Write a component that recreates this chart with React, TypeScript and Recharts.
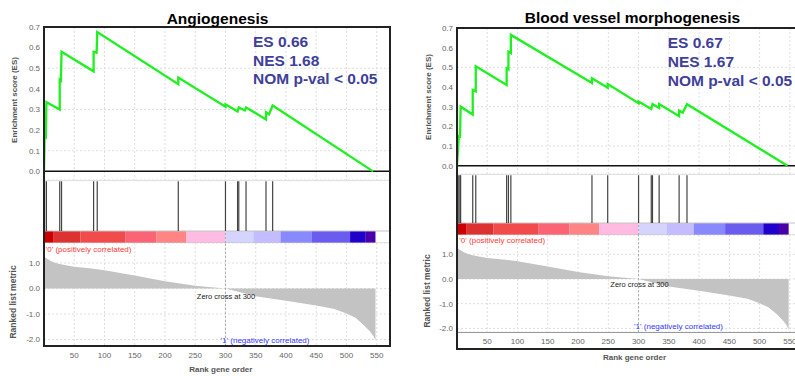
import type { CSSProperties } from "react";
import {
  Area,
  CartesianGrid,
  ComposedChart,
  Line,
  ReferenceArea,
  ReferenceLine,
  XAxis,
  YAxis,
} from "recharts";

const FONT = '"Liberation Sans", Arial, sans-serif';
const GREEN = "#1ff01f";
const GRID = "#dedede";
const TICK = { fontSize: 8, fill: "#666" };
const STAT = "#40409a";

// running enrichment score, vertices
const leftEsGene = [0, 1, 3, 4, 26, 26, 28, 29, 82, 82, 87, 88, 222, 222, 300, 300, 320, 322, 332, 334, 367, 367, 372, 378, 544];
const leftEsScore = [0, 0.17, 0.165, 0.335, 0.3, 0.445, 0.44, 0.58, 0.485, 0.58, 0.575, 0.675, 0.423, 0.455, 0.313, 0.325, 0.29, 0.31, 0.295, 0.31, 0.252, 0.287, 0.277, 0.319, 0];
const rightEsGene = [0, 3, 5, 6, 26, 26, 31, 31, 82, 82, 85, 85, 89, 89, 223, 223, 249, 249, 300, 300, 321, 323, 334, 334, 367, 367, 373, 380, 546];
const rightEsScore = [0, 0.15, 0.148, 0.3, 0.26, 0.385, 0.378, 0.505, 0.41, 0.495, 0.49, 0.58, 0.573, 0.665, 0.42, 0.445, 0.397, 0.415, 0.318, 0.326, 0.288, 0.314, 0.294, 0.314, 0.252, 0.28, 0.27, 0.313, 0];

// gene set hits (rank positions)
const leftHits = [0, 1, 4, 26, 29, 82, 88, 222, 300, 320, 322, 334, 367, 378];
const rightHits = [3, 5, 6, 26, 31, 82, 85, 89, 223, 249, 300, 321, 323, 334, 367, 380];

// ranked list metric outline
const metricGene = [0, 2, 6, 12, 22, 34, 50, 75, 100, 150, 200, 250, 300, 350, 400, 450, 480, 500, 515, 528, 539, 545, 548];
const metricValue = [1.3, 1.22, 1.16, 1.07, 0.98, 0.92, 0.85, 0.79, 0.72, 0.51, 0.28, 0.11, 0, -0.3, -0.48, -0.67, -0.8, -0.98, -1.15, -1.42, -1.69, -1.88, -2.05];

// heat bar below the hits
const barEdges = [0, 15, 60, 135, 186, 235, 300, 346, 391, 443, 506, 532, 548];
const barColors = ["#cc0000", "#dd3232", "#f14b4b", "#fa6475", "#ff8585", "#ffbbe2", "#d4d4ff", "#c3bdff", "#8888ff", "#6b5cf0", "#2200cc", "#4a00a8"];

const esTicks = [0, 0.1, 0.2, 0.3, 0.4, 0.5, 0.6, 0.7];
const metricTicks = [-2, -1, 0, 1];
const rankTicks = [50, 100, 150, 200, 250, 300, 350, 400, 450, 500, 550];

type Geo = {
  title: string;
  stats: string[];
  esGene: number[];
  esScore: number[];
  hits: number[];
  left: number;
  axisW: number;
  width: number;
  xMax: number;
  esTop: number;
  esBottom: number;
  hitsBottom: number;
  metBottom: number;
  metDomain: [number, number];
  frame: { left: number; top: number; width: number; height: number };
  innerBottomLine?: number;
  titleAt: [number, number];
  statsAt: [number, number[]];
  esLabelAt: [number, number];
  metLabelAt: [number, number];
  rankLabelAt: [number, number];
  posAt: [number, number];
  zeroAt: [number, number];
  negAt: [number, number];
};

function txt(x: number, y: number, s: CSSProperties, anchor = "center"): CSSProperties {
  const tx = anchor === "start" ? "0" : "-50%";
  return {
    position: "absolute",
    left: x,
    top: y,
    transform: `translate(${tx}, -50%)`,
    whiteSpace: "nowrap",
    ...s,
  };
}

const rotated = "translate(-50%, -50%) rotate(-90deg)";

function Panel({ g }: { g: Geo }) {
  const esData = g.esGene.map((x, i) => ({ x, es: g.esScore[i] }));
  const metData = metricGene.map((x, i) => ({ x, m: metricValue[i] }));
  const esH = g.esBottom - g.esTop;
  const hitsH = g.hitsBottom - g.esBottom;
  const cb = 12 / hitsH; // colour bar is 12px tall
  const metH = g.metBottom - g.hitsBottom;
  return (
    <>
      <div style={{ position: "absolute", left: g.left, top: g.esTop - 6 }}>
        <ComposedChart width={g.width} height={esH + 6} data={esData} margin={{ top: 6, right: 0, bottom: 0, left: 0 }}>
          <CartesianGrid stroke={GRID} strokeDasharray="2 2" />
          <XAxis dataKey="x" type="number" domain={[0, g.xMax]} ticks={rankTicks} hide allowDataOverflow />
          <YAxis
            type="number"
            width={g.axisW}
            domain={[-0.042, 0.7]}
            ticks={esTicks}
            allowDataOverflow
            tick={TICK}
            tickLine={false}
            axisLine={false}
            tickSize={0}
            tickMargin={4}
            tickFormatter={(v: number) => v.toFixed(1)}
          />
          <ReferenceLine y={0} stroke="#111" strokeWidth={1.5} />
          <Line type="linear" dataKey="es" stroke={GREEN} strokeWidth={2.3} dot={false} isAnimationActive={false} />
        </ComposedChart>
      </div>
      <div style={{ position: "absolute", left: g.left, top: g.esBottom }}>
        <ComposedChart width={g.width} height={hitsH} data={g.hits.map((x) => ({ x, y: 1 }))} margin={{ top: 0, right: 0, bottom: 0, left: g.axisW }}>
          <XAxis dataKey="x" type="number" domain={[0, g.xMax]} hide allowDataOverflow />
          <YAxis type="number" domain={[0, 1]} hide allowDataOverflow />
          {barColors.map((c, i) => (
            <ReferenceArea key={c} x1={barEdges[i]} x2={barEdges[i + 1]} y1={0} y2={cb} fill={c} fillOpacity={1} stroke="none" />
          ))}
          <ReferenceLine y={1} stroke="#c4c4c4" />
          <ReferenceLine y={cb} stroke="#c4c4c4" />
          <ReferenceLine y={0} stroke="#c4c4c4" />
          <ReferenceLine segment={[{ x: 300, y: 0 }, { x: 300, y: cb }]} stroke="#aaa" strokeDasharray="2 2" />
          {g.hits.map((h, i) => (
            <ReferenceLine key={i} segment={[{ x: h, y: cb }, { x: h, y: 0.98 }]} stroke="#444" strokeWidth={1.2} />
          ))}
        </ComposedChart>
      </div>
      <div style={{ position: "absolute", left: g.left, top: g.hitsBottom }}>
        <ComposedChart width={g.width} height={metH + 20} data={metData} margin={{ top: 0, right: 0, bottom: 0, left: 0 }}>
          <CartesianGrid stroke={GRID} strokeDasharray="2 2" />
          <XAxis
            dataKey="x"
            type="number"
            domain={[0, g.xMax]}
            ticks={rankTicks}
            allowDataOverflow
            height={20}
            tick={TICK}
            tickLine={false}
            axisLine={false}
            tickSize={0}
            tickMargin={6}
          />
          <YAxis
            type="number"
            width={g.axisW}
            domain={g.metDomain}
            ticks={metricTicks}
            allowDataOverflow
            tick={TICK}
            tickLine={false}
            axisLine={false}
            tickSize={0}
            tickMargin={4}
            tickFormatter={(v: number) => v.toFixed(1)}
          />
          <Area type="linear" dataKey="m" baseValue={0} stroke="none" fill="#c3c3c3" fillOpacity={1} isAnimationActive={false} />
          <ReferenceLine x={300} stroke="#aaa" strokeDasharray="2 2" />
        </ComposedChart>
      </div>
      {g.innerBottomLine !== undefined && (
        <div style={{ position: "absolute", left: g.frame.left, top: g.innerBottomLine, width: g.frame.width, height: 1, background: "#999" }} />
      )}
      <div
        style={{
          position: "absolute",
          left: g.frame.left,
          top: g.frame.top,
          width: g.frame.width,
          height: g.frame.height,
          border: "2px solid #222",
          boxSizing: "border-box",
        }}
      />
      <div style={txt(g.titleAt[0], g.titleAt[1], { fontSize: 15.5, fontWeight: 700, color: "#000" })}>{g.title}</div>
      {g.stats.map((s, i) => (
        <div key={s} style={txt(g.statsAt[0], g.statsAt[1][i], { fontSize: 15.5, fontWeight: 700, color: STAT }, "start")}>
          {s}
        </div>
      ))}
      <div style={{ ...txt(g.esLabelAt[0], g.esLabelAt[1], { fontSize: 8, fontWeight: 700, color: "#555" }), transform: rotated }}>
        Enrichment score (ES)
      </div>
      <div style={{ ...txt(g.metLabelAt[0], g.metLabelAt[1], { fontSize: 8.5, fontWeight: 700, color: "#555" }), transform: rotated }}>
        Ranked list metric
      </div>
      <div style={txt(g.rankLabelAt[0], g.rankLabelAt[1], { fontSize: 8, fontWeight: 700, color: "#555" })}>Rank gene order</div>
      <div style={txt(g.posAt[0], g.posAt[1], { fontSize: 8, color: "#ff3a3a" }, "start")}>'0' (positively correlated)</div>
      <div style={txt(g.zeroAt[0], g.zeroAt[1], { fontSize: 7.5, color: "#222" })}>Zero cross at 300</div>
      <div style={txt(g.negAt[0], g.negAt[1], { fontSize: 8, color: "#3a3aff" })}>'1' (negatively correlated)</div>
    </>
  );
}

const leftGeo: Geo = {
  title: "Angiogenesis",
  stats: ["ES 0.66", "NES 1.68", "NOM p-val < 0.05"],
  esGene: leftEsGene,
  esScore: leftEsScore,
  hits: leftHits,
  left: 0,
  axisW: 44,
  width: 390,
  xMax: 572,
  esTop: 27,
  esBottom: 180,
  hitsBottom: 243,
  metBottom: 346,
  metDomain: [-2.255, 1.784],
  frame: { left: 43, top: 26, width: 348, height: 321 },
  titleAt: [217.5, 19],
  statsAt: [253, [42.3, 60.5, 79]],
  esLabelAt: [14.3, 100],
  metLabelAt: [13, 301.7],
  rankLabelAt: [220.8, 369],
  posAt: [45.7, 249],
  zeroAt: [226, 295.7],
  negAt: [265, 340],
};

const rightGeo: Geo = {
  title: "Blood vessel morphogenesis",
  stats: ["ES 0.67", "NES 1.67", "NOM p-val < 0.05"],
  esGene: rightEsGene,
  esScore: rightEsScore,
  hits: rightHits,
  left: 412,
  axisW: 45,
  width: 393,
  xMax: 575,
  esTop: 28,
  esBottom: 174,
  hitsBottom: 235,
  metBottom: 332,
  metDomain: [-2.146, 1.78],
  frame: { left: 456, top: 27, width: 360, height: 323 },
  innerBottomLine: 332,
  titleAt: [632.5, 18.3],
  statsAt: [667.7, [43.3, 62.3, 80.7]],
  esLabelAt: [428.3, 96.7],
  metLabelAt: [426.7, 291],
  rankLabelAt: [634.5, 356.7],
  posAt: [459.3, 240],
  zeroAt: [639.5, 284.3],
  negAt: [678.5, 325.7],
};

export default function App() {
  return (
    <div
      style={{
        position: "absolute",
        left: 0,
        top: 0,
        width: 795,
        height: 376,
        overflow: "hidden",
        background: "#fff",
        fontFamily: FONT,
      }}
    >
      <Panel g={leftGeo} />
      <Panel g={rightGeo} />
    </div>
  );
}
